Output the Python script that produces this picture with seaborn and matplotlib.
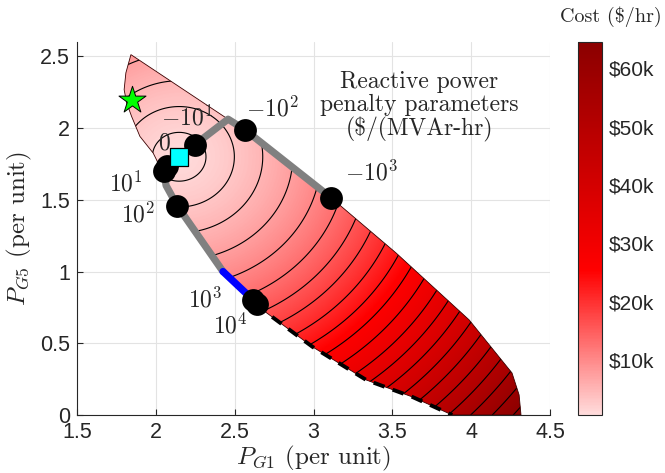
import numpy as np
import pandas as pd
import matplotlib
matplotlib.use("Agg")
import matplotlib.pyplot as plt
from matplotlib.colors import LinearSegmentedColormap, Normalize
from matplotlib.patches import Polygon
import seaborn as sns

# ---------------- data ----------------
# feasible region outline (P_G1, P_G5)
region_x = [1.842, 2.458, 2.563, 3.112, 3.523, 3.987, 4.259, 4.304, 4.316,
            3.880, 3.627, 3.335, 2.994, 2.677, 2.620, 2.563, 2.426, 2.135,
            2.078, 2.045, 1.983, 1.899, 1.846, 1.815, 1.799, 1.810]
region_y = [2.512, 2.062, 1.990, 1.514, 1.130, 0.663, 0.293, 0.140, 0.000,
            0.000, 0.126, 0.244, 0.475, 0.733, 0.790, 0.860, 1.000, 1.460,
            1.570, 1.690, 1.826, 1.942, 2.082, 2.175, 2.268, 2.385]

# cost surface ($/hr): minimum at the unconstrained optimum, rising with distance
cost_center = (2.148, 1.800)
cost_min = 580.0
cost_linear = 5210.0
cost_quadratic = 6190.0
cost_range = (580.0, 64500.0)
contour_levels = [1645, 3162, 5080, 7540, 10283, 13058, 15746, 18243, 20918,
                  23527, 26286, 29195, 32253, 35163, 38197, 41355, 44637,
                  48043, 51572, 55225, 59002, 62902]

# path of solutions as the reactive power penalty varies
path_x = [3.112, 2.563, 2.458, 2.247, 2.070, 2.050, 2.065, 2.135, 2.426]
path_y = [1.514, 1.990, 2.062, 1.884, 1.735, 1.700, 1.600, 1.460, 1.000]
blue_x = [2.426, 2.595]
blue_y = [1.000, 0.825]
dashed_x = [2.640, 2.677, 2.994, 3.335, 3.627, 3.880]
dashed_y = [0.775, 0.733, 0.475, 0.244, 0.126, 0.000]

penalty_labels = [r"$0$", r"$-10^{1}$", r"$-10^{2}$", r"$-10^{3}$",
                  r"$10^{1}$", r"$10^{2}$", r"$10^{3}$", r"$10^{4}$"]
penalty_x = [2.070, 2.247, 2.563, 3.112, 2.050, 2.135, 2.616, 2.640]
penalty_y = [1.735, 1.884, 1.990, 1.514, 1.700, 1.460, 0.800, 0.775]
label_x = [2.057, 2.200, 2.740, 3.367, 1.810, 1.886, 2.310, 2.475]
label_y = [1.890, 2.070, 2.135, 1.690, 1.610, 1.395, 0.805, 0.625]

star_xy = (1.846, 2.198)
square_xy = (2.148, 1.800)

xticks = [1.5, 2, 2.5, 3, 3.5, 4, 4.5]
xtick_labels = ["1.5", "2", "2.5", "3", "3.5", "4", "4.5"]
yticks = [0, 0.5, 1, 1.5, 2, 2.5]
ytick_labels = ["0", "0.5", "1", "1.5", "2", "2.5"]
cbar_ticks = [10000, 20000, 30000, 40000, 50000, 60000]
cbar_labels = [r"\$10k", r"\$20k", r"\$30k", r"\$40k", r"\$50k", r"\$60k"]

# ---------------- styling ----------------
sns.set_style("whitegrid", {"grid.color": "#e3e3e3", "axes.edgecolor": "#262626"})
plt.rcParams["font.family"] = ["Liberation Sans", "DejaVu Sans"]
plt.rcParams["mathtext.fontset"] = "cm"
serif = ["cmr10", "DejaVu Serif"]
dark = "#262626"

fig = plt.figure(figsize=(6.65, 4.73), dpi=100)
ax = fig.add_axes([77 / 665, 58 / 473, 473 / 665, 373 / 473])
cax = fig.add_axes([578 / 665, 58 / 473, 24 / 665, 373 / 473])

cmap = LinearSegmentedColormap.from_list(
    "cost", [(0.0, "#ffdcdc"), (0.388, "#ff0000"), (1.0, "#8b0000")])
norm = Normalize(vmin=cost_range[0], vmax=cost_range[1])

xs = np.linspace(1.5, 4.5, 800)
ys = np.linspace(0.0, 2.6, 700)
X, Y = np.meshgrid(xs, ys)
R = np.hypot(X - cost_center[0], Y - cost_center[1])
Z = cost_min + cost_linear * R + cost_quadratic * R ** 2

poly = Polygon(np.column_stack([region_x, region_y]), closed=True,
               facecolor="none", edgecolor="#3a0000", linewidth=0.6, zorder=3)
ax.add_patch(poly)
im = ax.imshow(Z, extent=(1.5, 4.5, 0.0, 2.6), origin="lower", cmap=cmap,
               norm=norm, aspect="auto", interpolation="bilinear", zorder=1)
im.set_clip_path(poly)
cs = ax.contour(X, Y, Z, levels=contour_levels, colors="k", linewidths=0.8, zorder=2)
cs.set_clip_path(poly)

# path, blue segment, dashed boundary
sns.lineplot(x=path_x, y=path_y, sort=False, estimator=None, ax=ax,
             color="#808080", linewidth=5.2, zorder=4)
sns.lineplot(x=blue_x, y=blue_y, sort=False, estimator=None, ax=ax,
             color="#0000ff", linewidth=5.2, zorder=4)
ax.plot(dashed_x, dashed_y, color="k", linewidth=2.8, linestyle=(0, (3.0, 2.2)),
        zorder=4)

sns.scatterplot(x=penalty_x, y=penalty_y, ax=ax, color="k", s=270,
                edgecolor="k", linewidth=0, zorder=5)
sns.scatterplot(x=[square_xy[0]], y=[square_xy[1]], ax=ax, marker="s",
                color="#00ffff", s=160, edgecolor="k", linewidth=0.9, zorder=6)
sns.scatterplot(x=[star_xy[0]], y=[star_xy[1]], ax=ax, marker="*",
                color="#00ff00", s=420, edgecolor="k", linewidth=0.7, zorder=6)

for lab, lx, ly in zip(penalty_labels, label_x, label_y):
    ax.text(lx, ly, lab, fontsize=17, ha="center", va="center", zorder=7)

ax.text(3.671, 2.150, "Reactive power\npenalty parameters\n($/(MVAr-hr)",
        family=serif, fontsize=17, ha="center", va="center",
        linespacing=1.05, zorder=7)

ax.set_xlim(1.5, 4.5)
ax.set_ylim(0, 2.6)
ax.set_xticks(xticks)
ax.set_xticklabels(xtick_labels)
ax.set_yticks(yticks)
ax.set_yticklabels(ytick_labels)
ax.tick_params(direction="in", length=4, width=0.8, labelsize=15.5,
               colors=dark, pad=5, left=True, bottom=True)
for s in ["top", "right"]:
    ax.spines[s].set_visible(False)
for s in ["left", "bottom"]:
    ax.spines[s].set_color(dark)
    ax.spines[s].set_linewidth(0.8)
ax.set_axisbelow(True)
ax.grid(True, color="#e3e3e3", linewidth=0.8)

ax.set_xlabel(r"$P_{G1}$ (per unit)", family=serif, fontsize=18, labelpad=1)
ax.set_ylabel(r"$P_{G5}$ (per unit)", family=serif, fontsize=18, labelpad=4)

cb = fig.colorbar(im, cax=cax)
cb.set_ticks(cbar_ticks)
cb.set_ticklabels(cbar_labels)
cax.tick_params(direction="in", length=4, width=0.8, labelsize=15,
                colors=dark, pad=5)
cb.outline.set_edgecolor(dark)
cb.outline.set_linewidth(0.8)
fig.text(611 / 665, 1 - 17 / 473, "Cost ($/hr)", family=serif, fontsize=14.5,
         ha="center", va="center")

fig.savefig("out.png", dpi=100)
